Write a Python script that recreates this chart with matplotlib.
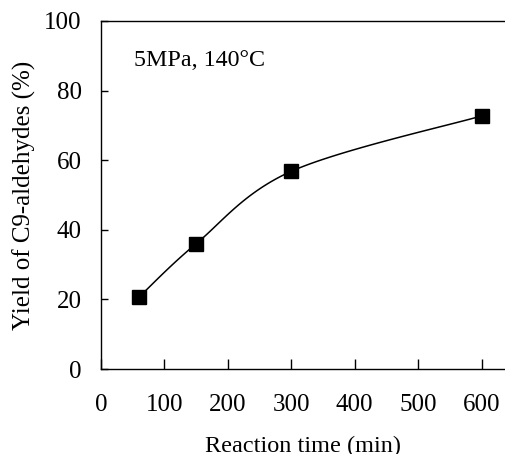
import numpy as np
import matplotlib
matplotlib.use("Agg")
import matplotlib.pyplot as plt

plt.rcParams['font.family'] = ['Liberation Serif', 'DejaVu Serif']

time_min = [60, 150, 300, 600]
yield_pct = [20.7, 36.0, 56.8, 72.7]
x_ticks = [0, 100, 200, 300, 400, 500, 600]
y_ticks = [0, 20, 40, 60, 80, 100]


def smooth_curve(xs, ys, n=40):
    # Excel-style smoothed line (cardinal spline through the points)
    xs = np.asarray(xs, float)
    ys = np.asarray(ys, float)
    px, py = [], []
    for i in range(len(xs) - 1):
        x0, y0 = (xs[i - 1], ys[i - 1]) if i > 0 else (xs[i], ys[i])
        x3, y3 = (xs[i + 2], ys[i + 2]) if i + 2 < len(xs) else (xs[i + 1], ys[i + 1])
        x1, y1, x2, y2 = xs[i], ys[i], xs[i + 1], ys[i + 1]
        c1x, c1y = x1 + (x2 - x0) / 6, y1 + (y2 - y0) / 6
        c2x, c2y = x2 - (x3 - x1) / 6, y2 - (y3 - y1) / 6
        t = np.linspace(0, 1, n)
        px.append((1-t)**3*x1 + 3*(1-t)**2*t*c1x + 3*(1-t)*t**2*c2x + t**3*x2)
        py.append((1-t)**3*y1 + 3*(1-t)**2*t*c1y + 3*(1-t)*t**2*c2y + t**3*y2)
    return np.concatenate(px), np.concatenate(py)


fig = plt.figure(figsize=(5.05, 4.54), dpi=100)
ax = fig.add_axes([0.2, 0.187, 0.8, 0.767])

sx, sy = smooth_curve(time_min, yield_pct)
ax.plot(sx, sy, color='black', lw=1.1, zorder=2)
ax.plot(time_min, yield_pct, 's', color='black', markersize=10.3, zorder=3)

ax.set_xlim(0, 637)
ax.set_ylim(0, 100)
ax.set_xticks(x_ticks)
ax.set_yticks(y_ticks)
ax.tick_params(axis='x', direction='in', length=7, width=1, pad=18, labelsize=18)
ax.tick_params(axis='y', direction='in', length=5, width=1, pad=14, labelsize=18)
ax.spines['right'].set_visible(False)
for s in ['top', 'left', 'bottom']:
    ax.spines[s].set_linewidth(1.0)

ax.text(52, 88.5, '5MPa, 140°C', fontsize=17.3, ha='left', va='center')
ax.set_xlabel('Reaction time (min)', fontsize=17.5, labelpad=14)
ax.set_ylabel('Yield of C9-aldehydes (%)', fontsize=18, labelpad=6)

fig.savefig('out.png', dpi=100)
